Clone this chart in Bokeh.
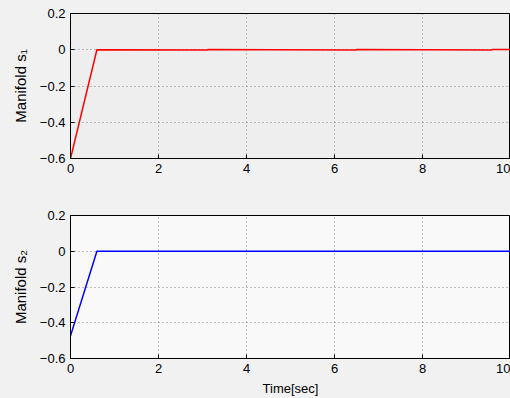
from bokeh.plotting import figure
from bokeh.layouts import column
from bokeh.models import CustomJSTickFormatter, FixedTicker, Range1d
from bokeh.embed import file_html
from bokeh.resources import INLINE

# Data
t1 = [0.0, 0.6, 3.12, 3.12, 4.6, 6.5, 6.5, 8.0, 9.58, 9.58, 10.0]
s1 = [-0.6, 0.0, -0.002, 0.002, 0.0, -0.002, 0.002, 0.0, -0.002, 0.002, 0.001]
t2 = [0.0, 0.6, 10.0]
s2 = [-0.473, 0.0, 0.0]
x_ticks = [0, 2, 4, 6, 8, 10]
y_ticks = [-0.6, -0.4, -0.2, 0.0, 0.2]

FONT = "Liberation Sans"
yfmt_code = """
if (Math.abs(tick) < 1e-9) { return '0'; }
var s = tick.toFixed(1);
return s.replace('-', '\\u2212');
"""


def make_fig(height, top, bottom, ylabel, xlabel, bg):
    p = figure(width=510, height=height, output_backend="svg", toolbar_location=None,
               x_range=Range1d(0, 10), y_range=Range1d(-0.6, 0.2),
               min_border_left=70, min_border_right=0,
               min_border_top=top, min_border_bottom=bottom)
    p.border_fill_color = "#f1f1f1"
    p.background_fill_color = bg
    p.outline_line_color = "black"
    p.outline_line_width = 1
    for ax in (p.xaxis[0], p.yaxis[0]):
        ax.major_tick_in = 4
        ax.major_tick_out = 0
        ax.minor_tick_in = 0
        ax.minor_tick_out = 0
        ax.axis_line_color = "black"
        ax.major_label_text_font = FONT
        ax.major_label_text_font_size = "13px"
        ax.major_label_text_color = "black"
        ax.axis_label_text_font = FONT
        ax.axis_label_text_font_size = "13px"
        ax.axis_label_text_font_style = "normal"
        ax.axis_label_text_color = "black"
    p.xaxis.ticker = FixedTicker(ticks=x_ticks)
    p.yaxis.ticker = FixedTicker(ticks=y_ticks)
    p.yaxis.formatter = CustomJSTickFormatter(code=yfmt_code)
    p.xaxis.major_label_standoff = 5
    p.yaxis.major_label_standoff = 5
    p.yaxis.axis_label = ylabel
    p.yaxis.axis_label_text_font_size = "15px"
    p.yaxis.axis_label_standoff = 8
    if xlabel:
        p.xaxis.axis_label = xlabel
        p.xaxis.axis_label_standoff = 5
    for g in (p.xgrid[0], p.ygrid[0]):
        g.grid_line_color = "#666666"
        g.grid_line_dash = "1 3"
        g.grid_line_width = 1
        g.grid_line_alpha = 0.8
    return p


p1 = make_fig(200, 13, 42, "Manifold s\u2081", None, "#eeeeee")
p1.line(t1, s1, line_color="#ff0000", line_width=1.5)

p2 = make_fig(198, 15, 38, "Manifold s\u2082", "Time[sec]", "#f9f9f9")
p2.line(t2, s2, line_color="#0000ff", line_width=1.5)

layout = column(p1, p2, spacing=0)
layout.background = "#f1f1f1"

open("out.html", "w").write(file_html(layout, INLINE))
